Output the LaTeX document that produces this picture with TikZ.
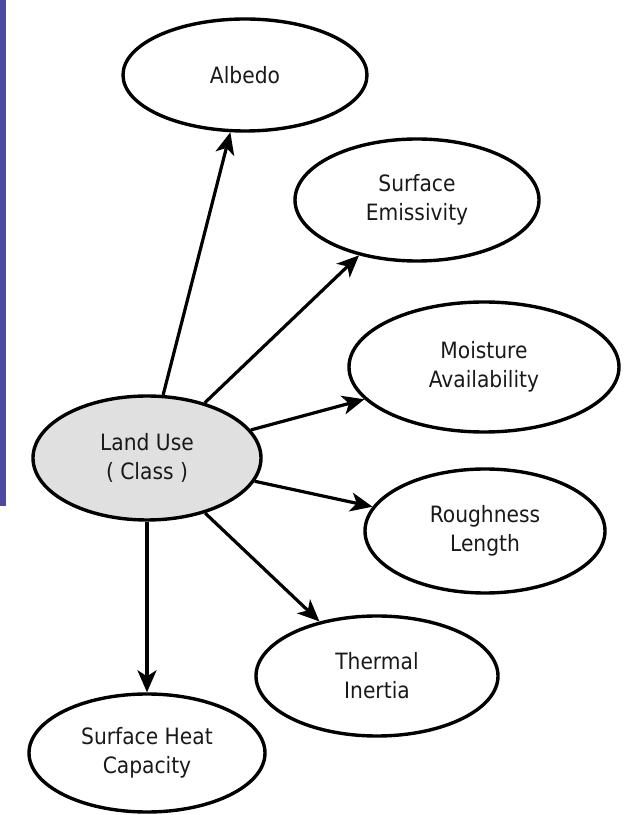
\documentclass[tikz,border=0pt]{standalone}
\usepackage{fontspec}
\setmainfont{DejaVu Sans Condensed}
\usetikzlibrary{arrows.meta,shapes.geometric}
\definecolor{barblue}{RGB}{76,74,160}
\definecolor{lugray}{RGB}{224,224,224}
\definecolor{txtgray}{RGB}{25,25,25}
\begin{document}
\begin{tikzpicture}[x=1pt,y=1pt,
    prop/.style={draw=black, line width=3.4pt, ellipse, inner sep=0pt, align=center,
                 text=txtgray, font=\fontsize{22.5}{29}\selectfont},
    link/.style={line width=3.2pt, -{Stealth[length=22pt,width=19pt,inset=6pt]}}]

        \useasboundingbox (0,0) rectangle (625,815);
        \fill [color=barblue] (0,309) rectangle (6,815);

        % ellipses
        \node [prop, minimum width=244pt, minimum height=112pt] (albedo) at (245,740) {Albedo};
        \node [prop, minimum width=244pt, minimum height=122pt] (emis) at (417,615) {Surface\\Emissivity};
        \node [prop, minimum width=270pt, minimum height=130pt] (moist) at (484,448) {Moisture\\Availability};
        \node [prop, minimum width=228pt, minimum height=124pt, fill=lugray] (landuse) at (147,357) {Land Use\\( Class )};
        \node [prop, minimum width=240pt, minimum height=124pt] (rough) at (485,284) {Roughness\\Length};
        \node [prop, minimum width=242pt, minimum height=120pt] (therm) at (377,139) {Thermal\\Inertia};
        \node [prop, minimum width=236pt, minimum height=118pt] (heatcap) at (147,62) {Surface Heat\\Capacity};

        % arrows
        \draw [link] (landuse) -- (albedo);
        \draw [link] (landuse) -- (emis);
        \draw [link] (landuse) -- (moist);
        \draw [link] (landuse) -- (rough);
        \draw [link] (landuse) -- (therm);
        \draw [link] (landuse) -- (heatcap);
\end{tikzpicture}
\end{document}
